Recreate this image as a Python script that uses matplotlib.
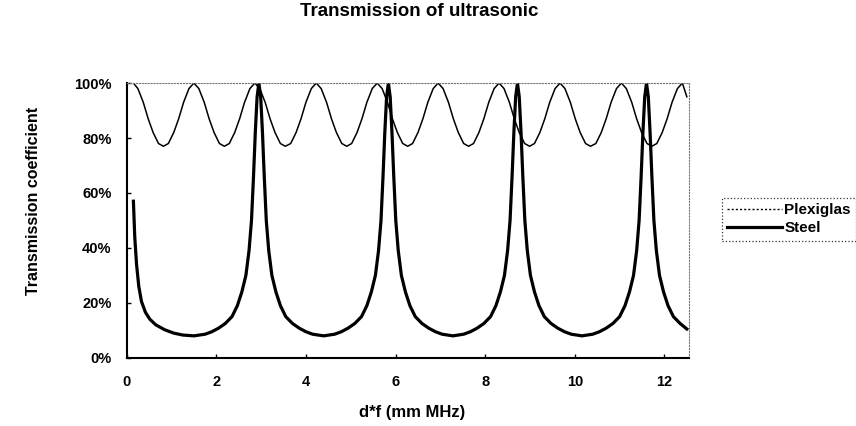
import matplotlib
matplotlib.use("Agg")
import matplotlib.pyplot as plt
from matplotlib.lines import Line2D
from matplotlib.ticker import FuncFormatter

plt.rcParams["font.family"] = ["Liberation Sans", "DejaVu Sans"]
plt.rcParams["font.weight"] = "bold"

title = "Transmission of ultrasonic"
x_label = "d*f (mm MHz)"
y_label = "Transmission coefficient"
x_ticks = [0, 2, 4, 6, 8, 10, 12]
y_ticks = [0.0, 0.2, 0.4, 0.6, 0.8, 1.0]

# Plexiglas
plexi_x = [0.15, 0.25, 0.37, 0.48, 0.59, 0.71, 0.82, 0.93, 1.05, 1.16, 1.27, 1.39,
           1.50, 1.61, 1.73, 1.84, 1.95, 2.07, 2.18, 2.29, 2.41, 2.52, 2.63, 2.75,
           2.86, 2.97, 3.09, 3.20, 3.31, 3.43, 3.54, 3.66, 3.78, 3.89, 4.00, 4.12,
           4.23, 4.34, 4.46, 4.57, 4.68, 4.80, 4.91, 5.02, 5.14, 5.25, 5.36, 5.48,
           5.59, 5.70, 5.82, 5.93, 6.04, 6.16, 6.27, 6.38, 6.50, 6.61, 6.72, 6.84,
           6.95, 7.06, 7.18, 7.29, 7.40, 7.52, 7.63, 7.74, 7.86, 7.97, 8.08, 8.20,
           8.31, 8.42, 8.54, 8.65, 8.76, 8.88, 8.99, 9.10, 9.22, 9.33, 9.44, 9.56,
           9.67, 9.78, 9.90, 10.01, 10.12, 10.24, 10.35, 10.47, 10.59, 10.70, 10.81, 10.93,
           11.04, 11.15, 11.27, 11.38, 11.49, 11.61, 11.72, 11.83, 11.95, 12.06, 12.17, 12.29,
           12.40, 12.50]
plexi_t = [1.00, 0.98, 0.93, 0.87, 0.82, 0.78, 0.77, 0.78, 0.82, 0.87, 0.93, 0.98,
           1.00, 0.98, 0.93, 0.87, 0.82, 0.78, 0.77, 0.78, 0.82, 0.87, 0.93, 0.98,
           1.00, 0.98, 0.93, 0.87, 0.82, 0.78, 0.77, 0.78, 0.82, 0.87, 0.93, 0.98,
           1.00, 0.98, 0.93, 0.87, 0.82, 0.78, 0.77, 0.78, 0.82, 0.87, 0.93, 0.98,
           1.00, 0.98, 0.93, 0.87, 0.82, 0.78, 0.77, 0.78, 0.82, 0.87, 0.93, 0.98,
           1.00, 0.98, 0.93, 0.87, 0.82, 0.78, 0.77, 0.78, 0.82, 0.87, 0.93, 0.98,
           1.00, 0.98, 0.93, 0.87, 0.82, 0.78, 0.77, 0.78, 0.82, 0.87, 0.93, 0.98,
           1.00, 0.98, 0.93, 0.87, 0.82, 0.78, 0.77, 0.78, 0.82, 0.87, 0.93, 0.98,
           1.00, 0.98, 0.93, 0.87, 0.82, 0.78, 0.77, 0.78, 0.82, 0.87, 0.93, 0.98,
           1.00, 0.95]

# Steel
steel_x = [0.15, 0.18, 0.22, 0.27, 0.33, 0.42, 0.52, 0.65, 0.85, 1.05, 1.25, 1.50,
           1.75, 1.90, 2.05, 2.20, 2.35, 2.47, 2.57, 2.66, 2.73, 2.785, 2.83, 2.87, 2.91,
           2.95, 2.99, 3.03, 3.07, 3.115, 3.17, 3.24, 3.33, 3.43, 3.55, 3.70, 3.85, 4.00, 4.15,
           4.395,
           4.64, 4.79, 4.94, 5.09, 5.24, 5.36, 5.46, 5.55, 5.62, 5.675, 5.72, 5.76, 5.80,
           5.84, 5.88, 5.92, 5.96, 6.005, 6.06, 6.13, 6.22, 6.32, 6.44, 6.59, 6.74, 6.89, 7.04,
           7.28,
           7.52, 7.67, 7.82, 7.97, 8.12, 8.24, 8.34, 8.43, 8.50, 8.555, 8.60, 8.64, 8.68,
           8.72, 8.76, 8.80, 8.84, 8.885, 8.94, 9.01, 9.10, 9.20, 9.32, 9.47, 9.62, 9.77, 9.92,
           10.16,
           10.40, 10.55, 10.70, 10.85, 11.00, 11.12, 11.22, 11.31, 11.38, 11.435, 11.48, 11.52, 11.56,
           11.60, 11.64, 11.68, 11.72, 11.765, 11.82, 11.89, 11.98, 12.08, 12.20, 12.35, 12.50]
steel_t = [0.57, 0.44, 0.34, 0.26, 0.205, 0.165, 0.14, 0.12, 0.102, 0.09, 0.083, 0.08,
           0.086, 0.095, 0.108, 0.125, 0.15, 0.19, 0.24, 0.30, 0.39, 0.50, 0.66, 0.82, 0.95,
           1.00, 0.95, 0.82, 0.66, 0.50, 0.39, 0.30, 0.24, 0.19, 0.15, 0.125, 0.108, 0.095, 0.086,
           0.08,
           0.086, 0.095, 0.108, 0.125, 0.15, 0.19, 0.24, 0.30, 0.39, 0.50, 0.66, 0.82, 0.95,
           1.00, 0.95, 0.82, 0.66, 0.50, 0.39, 0.30, 0.24, 0.19, 0.15, 0.125, 0.108, 0.095, 0.086,
           0.08,
           0.086, 0.095, 0.108, 0.125, 0.15, 0.19, 0.24, 0.30, 0.39, 0.50, 0.66, 0.82, 0.95,
           1.00, 0.95, 0.82, 0.66, 0.50, 0.39, 0.30, 0.24, 0.19, 0.15, 0.125, 0.108, 0.095, 0.086,
           0.08,
           0.086, 0.095, 0.108, 0.125, 0.15, 0.19, 0.24, 0.30, 0.39, 0.50, 0.66, 0.82, 0.95,
           1.00, 0.95, 0.82, 0.66, 0.50, 0.39, 0.30, 0.24, 0.19, 0.15, 0.125, 0.105]


def main():
    fig = plt.figure(figsize=(8.56, 4.26), dpi=100)
    ax = fig.add_axes([0.148, 0.16, 0.657, 0.645])

    ax.plot(plexi_x, plexi_t, color="black", lw=1.1)
    ax.plot(steel_x, steel_t, color="black", lw=2.3)

    ax.set_xlim(0, 12.55)
    ax.set_ylim(0, 1.0)
    ax.set_xticks(x_ticks)
    ax.set_yticks(y_ticks)
    ax.yaxis.set_major_formatter(FuncFormatter(lambda v, p: f"{v:.0%}"))
    ax.tick_params(labelsize=10.5, length=3, width=1, direction="in", pad=12)
    ax.tick_params(axis="y", pad=11)

    for s in ("left", "bottom"):
        ax.spines[s].set_linewidth(1.5)
    for s in ("top", "right"):
        ax.spines[s].set_linestyle(":")
        ax.spines[s].set_linewidth(0.8)
        ax.spines[s].set_color("#777777")

    fig.text(0.49, 0.972, title, ha="center", va="center", fontsize=13.5, fontweight="bold")
    fig.text(0.481, 0.032, x_label, ha="center", va="center", fontsize=12, fontweight="bold")
    fig.text(0.039, 0.528, y_label, ha="center", va="center", rotation=90,
             fontsize=11.5, fontweight="bold")

    handles = [Line2D([], [], color="black", lw=1.0, ls=(0, (1.5, 1.5))),
               Line2D([], [], color="black", lw=2.3)]
    leg = fig.legend(handles, ["Plexiglas", "Steel"], loc="center left",
                     bbox_to_anchor=(0.843, 0.485), fontsize=11, frameon=True,
                     fancybox=False, borderaxespad=0, handlelength=3.6,
                     handletextpad=0.15, borderpad=0.35, labelspacing=0.25)
    frame = leg.get_frame()
    frame.set_edgecolor("black")
    frame.set_linestyle(":")
    frame.set_linewidth(0.9)

    fig.savefig("out.png", dpi=100)


if __name__ == "__main__":
    main()
